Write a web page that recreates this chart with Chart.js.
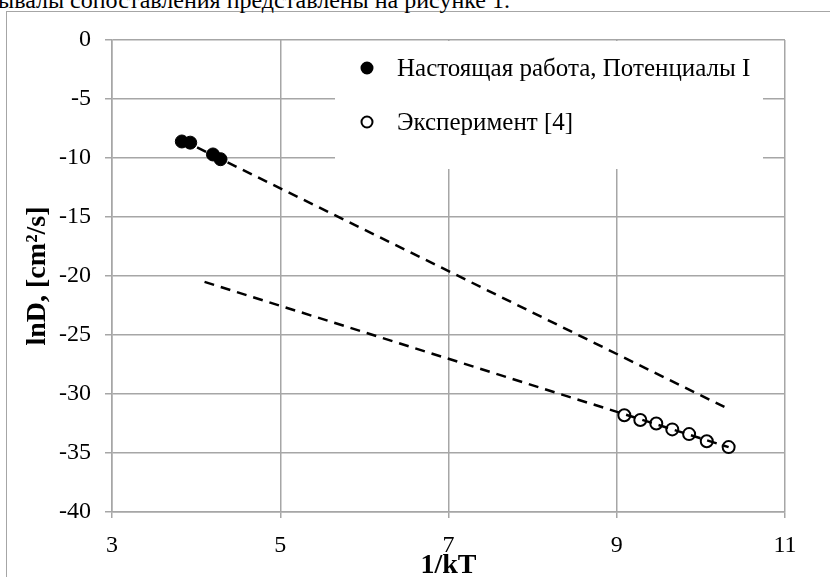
<!DOCTYPE html>
<html>
<head>
<meta charset="utf-8">
<script src="https://cdn.jsdelivr.net/npm/chart.js@4.4.1/dist/chart.umd.min.js"></script>
<style>
  html, body { margin: 0; padding: 0; background: #fff; overflow: hidden; }
  #page { position: relative; width: 830px; height: 577px; overflow: hidden; }
  #caption {
    position: absolute; left: -2px; top: -12px; white-space: nowrap; line-height: 24px;
    font-family: "Liberation Serif", serif; font-size: 24px; color: #000;
  }
  #frame {
    position: absolute; left: 6px; top: 11px; width: 900px; height: 700px;
    border: 1px solid #a6a6a6; box-sizing: border-box;
  }
  #chartBox { position: absolute; left: 0; top: 0; width: 830px; height: 600px; }
</style>
</head>
<body>
<div id="page">
  <div id="frame"></div>
  <div id="caption">ывалы сопоставления представлены на рисунке 1.</div>
  <div id="chartBox"><canvas id="chart"></canvas></div>
</div>
<script>
// данные
const ourLabel = "Настоящая работа, Потенциалы I";
const ourX = [3.83, 3.93, 4.20, 4.29];
const ourY = [-8.6, -8.7, -9.7, -10.1];

const expLabel = "Эксперимент [4]";
const expX = [9.09, 9.28, 9.47, 9.66, 9.86, 10.07, 10.33];
const expY = [-31.8, -32.2, -32.5, -33.0, -33.4, -34.0, -34.5];

// линии тренда (концы)
const ourTrendX = [3.83, 10.28];
const ourTrendY = [-8.46, -31.1];
const expTrendX = [4.10, 10.33];
const expTrendY = [-20.5, -34.5];

const xTicks = [3, 5, 7, 9, 11];
const yTicks = [0, -5, -10, -15, -20, -25, -30, -35, -40];

const toPoints = (xs, ys) => xs.map((x, i) => ({ x: x, y: ys[i] }));

const serif = "'Liberation Serif', 'Times New Roman', serif";
const gridColor = "#a6a6a6";

// легенда внутри области графика, на белом фоне
const insideLegend = {
  id: "insideLegend",
  beforeDatasetsDraw(chart) {
    const ctx = chart.ctx;
    ctx.save();
    ctx.fillStyle = "#fff";
    ctx.fillRect(335, 41, 428, 128);
    const items = [
      { label: ourLabel, fill: "#000", y: 68 },
      { label: expLabel, fill: "#fff", y: 122 },
    ];
    items.forEach((it) => {
      ctx.beginPath();
      ctx.arc(367, it.y, 5.5, 0, Math.PI * 2);
      ctx.fillStyle = it.fill;
      ctx.fill();
      ctx.lineWidth = 2;
      ctx.strokeStyle = "#000";
      ctx.stroke();
      ctx.fillStyle = "#000";
      ctx.font = "25px " + serif;
      ctx.textBaseline = "middle";
      ctx.fillText(it.label, 397, it.y + 1);
    });
    ctx.restore();
  },
};

new Chart(document.getElementById("chart"), {
  type: "scatter",
  data: {
    datasets: [
      {
        label: "trend1",
        type: "line",
        data: toPoints(ourTrendX, ourTrendY),
        borderColor: "#000",
        borderWidth: 2.5,
        borderDash: [10, 7],
        pointRadius: 0,
        showLine: true,
        order: 0,
      },
      {
        label: "trend2",
        type: "line",
        data: toPoints(expTrendX, expTrendY),
        borderColor: "#000",
        borderWidth: 2.5,
        borderDash: [10, 7],
        pointRadius: 0,
        showLine: true,
        order: 0,
      },
      {
        label: ourLabel,
        data: toPoints(ourX, ourY),
        pointRadius: 6.5,
        pointBackgroundColor: "#000",
        pointBorderColor: "#000",
        pointBorderWidth: 1,
        order: 1,
      },
      {
        label: expLabel,
        data: toPoints(expX, expY),
        pointRadius: 6,
        pointBackgroundColor: "rgba(255,255,255,0)",
        pointBorderColor: "#000",
        pointBorderWidth: 2,
        order: 1,
      },
    ],
  },
  options: {
    responsive: true,
    maintainAspectRatio: false,
    animation: false,
    layout: { padding: { left: 0, top: 40, right: 45, bottom: 0 } },
    plugins: {
      legend: { display: false },
      tooltip: { enabled: false },
    },
    scales: {
      x: {
        type: "linear",
        min: 3,
        max: 11,
        afterBuildTicks: (axis) => { axis.ticks = xTicks.map((v) => ({ value: v })); },
        afterFit: (axis) => { axis.height = 88; },
        grid: { color: gridColor, tickColor: gridColor, tickLength: 6, lineWidth: 1.5 },
        border: { color: gridColor, width: 1.5 },
        ticks: { color: "#000", font: { family: serif, size: 24 }, padding: 13, maxRotation: 0 },
        title: {
          display: true,
          text: "1/kT",
          color: "#000",
          font: { family: serif, size: 28, weight: "bold" },
          padding: { top: 0, bottom: 17 },
        },
      },
      y: {
        type: "linear",
        min: -40,
        max: 0,
        afterBuildTicks: (axis) => { axis.ticks = yTicks.map((v) => ({ value: v })); },
        afterFit: (axis) => { axis.width = 112; },
        grid: { color: gridColor, tickColor: gridColor, tickLength: 7, lineWidth: 1.5 },
        border: { color: gridColor, width: 1.5 },
        ticks: { color: "#000", font: { family: serif, size: 24 }, padding: 14 },
        title: {
          display: true,
          text: "lnD, [cm²/s]",
          color: "#000",
          font: { family: serif, size: 28, weight: "bold" },
          padding: { top: 21, bottom: 0 },
        },
      },
    },
  },
  plugins: [insideLegend],
});
</script>
</body>
</html>
